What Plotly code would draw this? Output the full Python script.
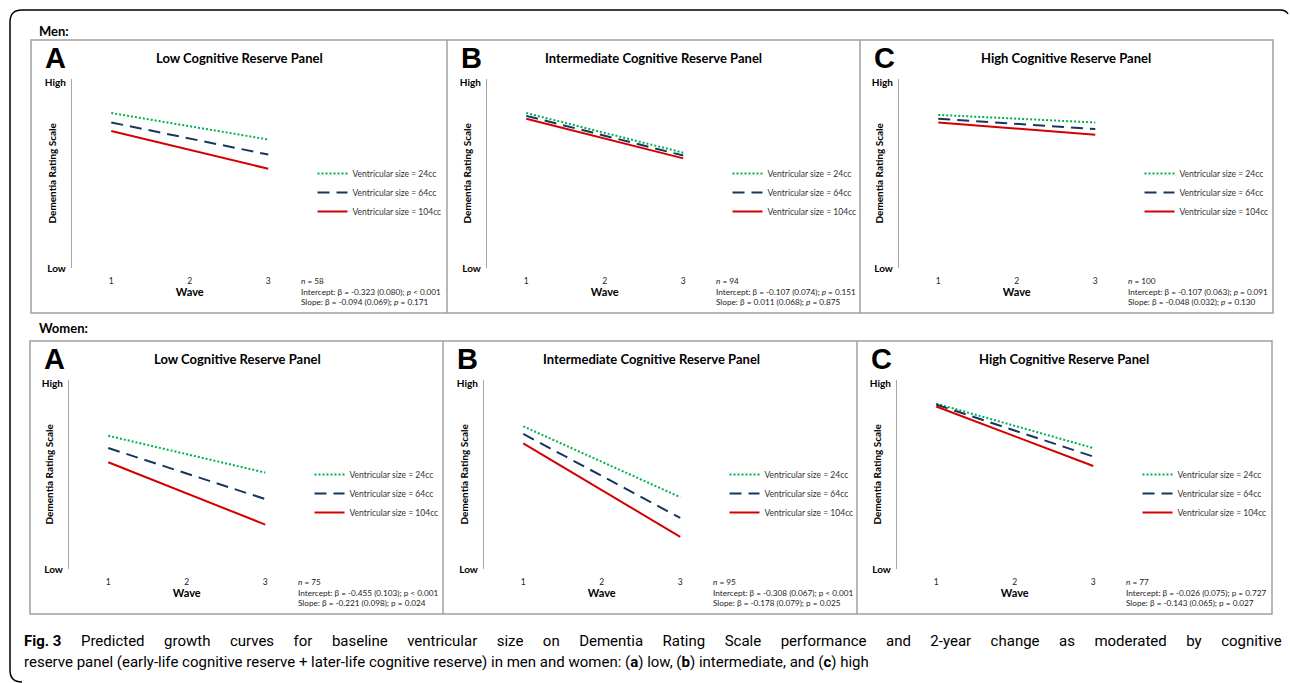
import plotly.graph_objects as go

W, H = 1290, 683

# ---------------- data ----------------
waves = [1, 3]
wave_ticks = [1, 2, 3]
series_names = ["Ventricular size = 24cc", "Ventricular size = 64cc", "Ventricular size = 104cc"]
panel_letters = ["A", "B", "C"]
panel_titles = ["Low Cognitive Reserve Panel", "Intermediate Cognitive Reserve Panel", "High Cognitive Reserve Panel"]
y_ticktext = ["Low", "High"]

# predicted Dementia Rating Scale (0 = Low, 100 = High) at waves 1 and 3
men_low_24 = [82, 68]
men_low_64 = [77, 60]
men_low_104 = [72.5, 52.5]
men_int_24 = [82, 61]
men_int_64 = [80.5, 59.5]
men_int_104 = [79, 58]
men_high_24 = [81, 77]
men_high_64 = [79, 73.5]
men_high_104 = [77, 70.5]
women_low_24 = [70.5, 51]
women_low_64 = [64, 37]
women_low_104 = [56.5, 23.5]
women_int_24 = [75.5, 38]
women_int_64 = [71.5, 27]
women_int_104 = [66.5, 17]
women_high_24 = [87.5, 64]
women_high_64 = [87, 59.5]
women_high_104 = [86, 54.5]

men_n = [58, 94, 100]
men_intercept = ["-0.323 (0.080)", "-0.107 (0.074)", "-0.107 (0.063)"]
men_intercept_p = ["< 0.001", "= 0.151", "= 0.091"]
men_slope = ["-0.094 (0.069)", "0.011 (0.068)", "-0.048 (0.032)"]
men_slope_p = ["= 0.171", "= 0.875", "= 0.130"]
women_n = [75, 95, 77]
women_intercept = ["-0.455 (0.103)", "-0.308 (0.067)", "-0.026 (0.075)"]
women_intercept_p = ["< 0.001", "< 0.001", "= 0.727"]
women_slope = ["-0.221 (0.098)", "-0.178 (0.079)", "-0.143 (0.065)"]
women_slope_p = ["= 0.024", "= 0.025", "= 0.027"]

caption_line1 = ("Predicted growth curves for baseline ventricular size on Dementia Rating Scale "
                 "performance and 2-year change as moderated by cognitive")
caption_line2 = ("reserve panel (early-life cognitive reserve + later-life cognitive reserve) in men and "
                 "women: (<b>a</b>) low, (<b>b</b>) intermediate, and (<b>c</b>) high")

men_series = [
    [men_low_24, men_low_64, men_low_104],
    [men_int_24, men_int_64, men_int_104],
    [men_high_24, men_high_64, men_high_104],
]
women_series = [
    [women_low_24, women_low_64, women_low_104],
    [women_int_24, women_int_64, women_int_104],
    [women_high_24, women_high_64, women_high_104],
]

# ---------------- styles ----------------
line_styles = [
    dict(color="#00B050", width=2, dash="2px,2px"),
    dict(color="#17365D", width=2, dash="12px,7px"),
    dict(color="#D40000", width=2, dash="solid"),
]
FONT = "Lato"
CAP_FONT = "Roboto"

def X(px):
    return px / W

def Y(py):
    return 1 - py / H

fig = go.Figure()

rows = [
    dict(label="Men:", label_y=31, box_top=40, box_bottom=313, box_left=31, box_right=1273,
         dividers=[447, 860], axis_x=[72, 487, 899], y_low=268, y_high=79,
         series=men_series, n=men_n, ic=men_intercept, icp=men_intercept_p,
         sl=men_slope, slp=men_slope_p, italic_p=True),
    dict(label="Women:", label_y=328, box_top=341, box_bottom=614, box_left=30, box_right=1272,
         dividers=[443, 857], axis_x=[69, 484, 897], y_low=569, y_high=380,
         series=women_series, n=women_n, ic=women_intercept, icp=women_intercept_p,
         sl=women_slope, slp=women_slope_p, italic_p=False),
]
panel_left = [[31, 447, 860], [30, 443, 857]]
title_cx = [[239, 653, 1066], [237, 651, 1064]]
d = 78.5  # pixels per wave

shapes = []
annotations = []
layout_axes = {}
k = 0
for r, row in enumerate(rows):
    annotations.append(dict(text="<b>%s</b>" % row["label"], x=X(37), y=Y(row["label_y"]),
                            xref="paper", yref="paper", xanchor="left", yanchor="middle",
                            showarrow=False, font=dict(family=FONT, size=13, color="#000")))
    shapes.append(dict(type="rect", xref="paper", yref="paper",
                       x0=X(row["box_left"]), x1=X(row["box_right"]),
                       y0=Y(row["box_bottom"]), y1=Y(row["box_top"]),
                       line=dict(color="#a0a0a0", width=1.5)))
    for dv in row["dividers"]:
        shapes.append(dict(type="line", xref="paper", yref="paper", x0=X(dv), x1=X(dv),
                           y0=Y(row["box_bottom"]), y1=Y(row["box_top"]),
                           line=dict(color="#a0a0a0", width=1.5)))
    for p in range(3):
        k += 1
        sfx = "" if k == 1 else str(k)
        ax0 = row["axis_x"][p]
        ax1 = ax0 + 3 * d
        layout_axes["xaxis" + sfx] = dict(
            domain=[X(ax0), X(ax1)], range=[0.5, 3.5], anchor="y" + sfx,
            tickvals=wave_ticks, ticktext=[str(t) for t in wave_ticks],
            showline=False, showgrid=False, zeroline=False, ticks="",
            ticklabelstandoff=6, tickfont=dict(family=FONT, size=8.5, color="#222"),
            title=dict(text="<b>Wave</b>", font=dict(family=FONT, size=11, color="#000"), standoff=3),
            fixedrange=True)
        layout_axes["yaxis" + sfx] = dict(
            domain=[Y(row["y_low"]), Y(row["y_high"])], range=[0, 100], anchor="x" + sfx,
            tickvals=[0, 98], ticktext=["<b>%s</b>" % t for t in y_ticktext],
            showline=True, linecolor="#a6a6a6", linewidth=1.2, showgrid=False, zeroline=False,
            ticks="", ticklabelstandoff=3, tickfont=dict(family=FONT, size=10, color="#000"),
            fixedrange=True)
        lg = "legend" if k == 1 else "legend%d" % k
        for s in range(3):
            fig.add_trace(go.Scatter(
                x=waves, y=row["series"][p][s], mode="lines", name=series_names[s],
                line=line_styles[s], xaxis="x" + sfx, yaxis="y" + sfx,
                legend=lg, showlegend=True, hoverinfo="skip"))
        layout_axes[lg] = dict(
            x=X(ax1 + 5), y=Y(row["y_high"] + 80), xanchor="left", yanchor="top",
            bgcolor="rgba(0,0,0,0)", borderwidth=0, itemwidth=30, tracegroupgap=0,
            font=dict(family=FONT, size=8.5, color="#333"))
        annotations.append(dict(text="<b>%s</b>" % panel_letters[p], x=X(panel_left[r][p] + 12),
                                y=Y(row["box_top"] + 18), xref="paper", yref="paper",
                                xanchor="left", yanchor="middle", showarrow=False,
                                font=dict(family="Liberation Sans", size=29, color="#000")))
        annotations.append(dict(text="<b>%s</b>" % panel_titles[p], x=X(title_cx[r][p]),
                                y=Y(row["box_top"] + 18), xref="paper", yref="paper",
                                xanchor="center", yanchor="middle", showarrow=False,
                                font=dict(family=FONT, size=13, color="#000")))
        annotations.append(dict(text="<b>Dementia Rating Scale</b>", x=X(ax0 - 21),
                                y=Y((row["y_low"] + row["y_high"]) / 2), xref="paper", yref="paper",
                                xanchor="center", yanchor="middle", textangle=-90, showarrow=False,
                                font=dict(family=FONT, size=10, color="#000")))
        pi = "<i>p</i>" if row["italic_p"] else "p"
        txt = ("<i>n</i> = %d<br>Intercept: β = %s; %s %s<br>Slope: β = %s; %s %s" % (
            row["n"][p], row["ic"][p], pi, row["icp"][p].replace("<", "&lt;"),
            row["sl"][p], pi, row["slp"][p].replace("<", "&lt;")))
        annotations.append(dict(text=txt, x=X(ax1 - 9), y=Y(row["y_low"] + 6), xref="paper", yref="paper",
                                xanchor="left", yanchor="top", align="left", showarrow=False,
                                font=dict(family=FONT, size=8.2, color="#222")))

# outer rounded border (left, top)
shapes.append(dict(type="path", xref="paper", yref="paper",
                   path="M %f,%f Q %f,%f %f,%f L %f,%f Q %f,%f %f,%f L %f,%f Q %f,%f %f,%f" % (
                       X(22), Y(682), X(10), Y(682), X(10), Y(670),
                       X(10), Y(22), X(10), Y(10), X(22), Y(10),
                       X(1280), Y(10), X(1286), Y(10), X(1288), Y(14)),
                   line=dict(color="#000", width=1.5)))

# caption: line 1 justified across the full width
words = caption_line1.split(" ")
gap = "&nbsp;" * 4 + "&#8201;&#8202;"
line1 = "<b>Fig. 3</b>" + gap + gap.join(words)
annotations.append(dict(text=line1, x=X(22), y=Y(641), xref="paper", yref="paper",
                        xanchor="left", yanchor="middle", align="left", showarrow=False,
                        font=dict(family=CAP_FONT, size=15, color="#000")))
annotations.append(dict(text=caption_line2, x=X(22), y=Y(662), xref="paper", yref="paper",
                        xanchor="left", yanchor="middle", align="left", showarrow=False,
                        font=dict(family=CAP_FONT, size=15, color="#000")))

fig.update_layout(
    width=W, height=H, margin=dict(l=0, r=0, t=0, b=0, pad=0, autoexpand=False),
    paper_bgcolor="white", plot_bgcolor="rgba(0,0,0,0)",
    shapes=shapes, annotations=annotations, **layout_axes)

fig.write_html("out.html", config={"displayModeBar": False},
               post_script="document.body.style.margin='0';document.body.style.overflow='hidden';")
